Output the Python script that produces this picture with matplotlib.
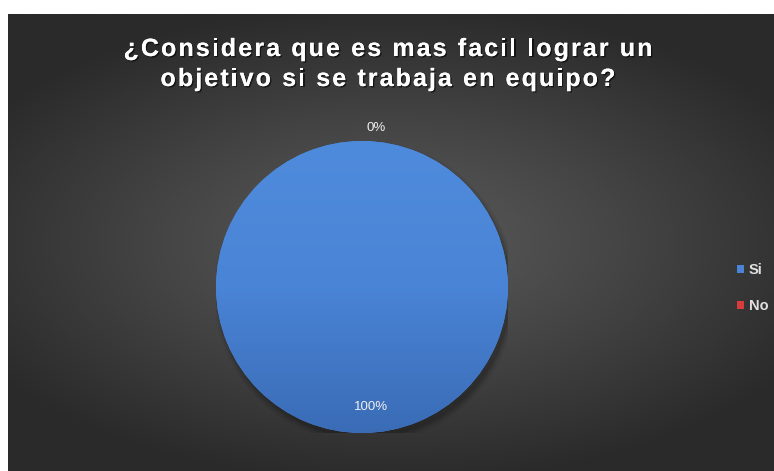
import numpy as np
import matplotlib
matplotlib.use("Agg")
import matplotlib.pyplot as plt
import matplotlib.patheffects as pe
from matplotlib.colors import LinearSegmentedColormap

title_lines = ["¿Considera que es mas facil lograr un", "objetivo si se trabaja en equipo?"]
categories = ["Si", "No"]
values = [100, 0]
colors = ["#4a84d6", "#d63c3c"]

W, H = 774, 471
fig = plt.figure(figsize=(W / 100, H / 100), dpi=100, facecolor="white")

# dark radial background of the chart area
bg = fig.add_axes([8 / W, 0, (W - 8) / W, (H - 14) / H])
bg.set_axis_off()
yy, xx = np.mgrid[-1:1:300j, -1:1:500j]
rr = np.sqrt((xx / 1.0) ** 2 + (yy / 0.85) ** 2)
bg_cmap = LinearSegmentedColormap.from_list("bg", ["#5c5c5c", "#444444", "#2a2a2a"])
bg.imshow(rr, cmap=bg_cmap, vmin=0, vmax=1.25, aspect="auto", extent=[0, 1, 0, 1])
bg.set_xlim(0, 1)
bg.set_ylim(0, 1)

# title drawn char by char so the letters can be spaced out
renderer = fig.canvas.get_renderer()
title_font = dict(fontsize=18, fontweight="bold", family="Liberation Sans", color="white")
shadow = [pe.withSimplePatchShadow(offset=(1, -1), shadow_rgbFace="black", alpha=0.6), pe.Normal()]
tracking = 2.1
center_x = 388
for line, base_y in zip(title_lines, [56, 86]):
    widths = []
    for ch in line:
        t = fig.text(0, 0, ch if ch != " " else "\u00a0", **title_font)
        widths.append(t.get_window_extent(renderer).width)
        t.remove()
    total_w = sum(widths) + tracking * (len(line) - 1)
    x = center_x - total_w / 2
    for ch, w in zip(line, widths):
        if ch != " ":
            fig.text(x / W, 1 - base_y / H, ch, ha="left", va="baseline",
                     path_effects=shadow, **title_font)
        x += w + tracking

# pie
cx, cy, r = 362, H - 287, 146
ax = fig.add_axes([(cx - r) / W, (cy - r) / H, 2 * r / W, 2 * r / H])
ax.set_xlim(-1, 1)
ax.set_ylim(-1, 1)
ax.set_aspect("equal")
ax.set_axis_off()

# soft shadow under the pie
for k, a in enumerate([0.10, 0.08, 0.06, 0.04]):
    ax.add_patch(plt.Circle((0.02, -0.035), 1.0 + 0.012 * k, color="black", alpha=a, lw=0))

wedges, _ = ax.pie(values, colors=colors, startangle=90, counterclock=False, radius=1.0,
                   wedgeprops=dict(linewidth=0))

# vertical shading on the blue slice
shade = LinearSegmentedColormap.from_list("shade", ["#3a6cb6", "#4a84d6", "#4f8bdc"])
gy = np.linspace(0, 1, 256).reshape(-1, 1)
img = ax.imshow(gy, cmap=shade, extent=[-1, 1, -1, 1], origin="lower", aspect="auto",
                zorder=wedges[0].get_zorder() + 0.1)
img.set_clip_path(wedges[0])
ax.set_xlim(-1, 1)
ax.set_ylim(-1, 1)

total = sum(values)
start = 90
for w, v in zip(wedges, values):
    frac = v / total
    mid = np.deg2rad(start - frac * 360 / 2)
    start -= frac * 360
    dist = 0.82 if frac > 0.05 else 1.09
    dx = 0.06 if frac > 0.05 else 0.1
    ax.text(dist * np.cos(mid) + dx, dist * np.sin(mid), f"{v / total:.0%}", ha="center", va="center",
            color="#f0f0f0", fontsize=9.5, family="Liberation Sans", zorder=10)

leg = fig.legend(wedges, categories, loc="center left", bbox_to_anchor=(724 / W, 1 - 288 / H),
                 frameon=False, handlelength=0.5, handleheight=0.5, handletextpad=0.3,
                 labelspacing=1.5, prop=dict(family="Liberation Sans", size=10.5, weight="bold"))
for t in leg.get_texts():
    t.set_color("#e0e0e0")

fig.savefig("out.png", dpi=100, facecolor="white")
